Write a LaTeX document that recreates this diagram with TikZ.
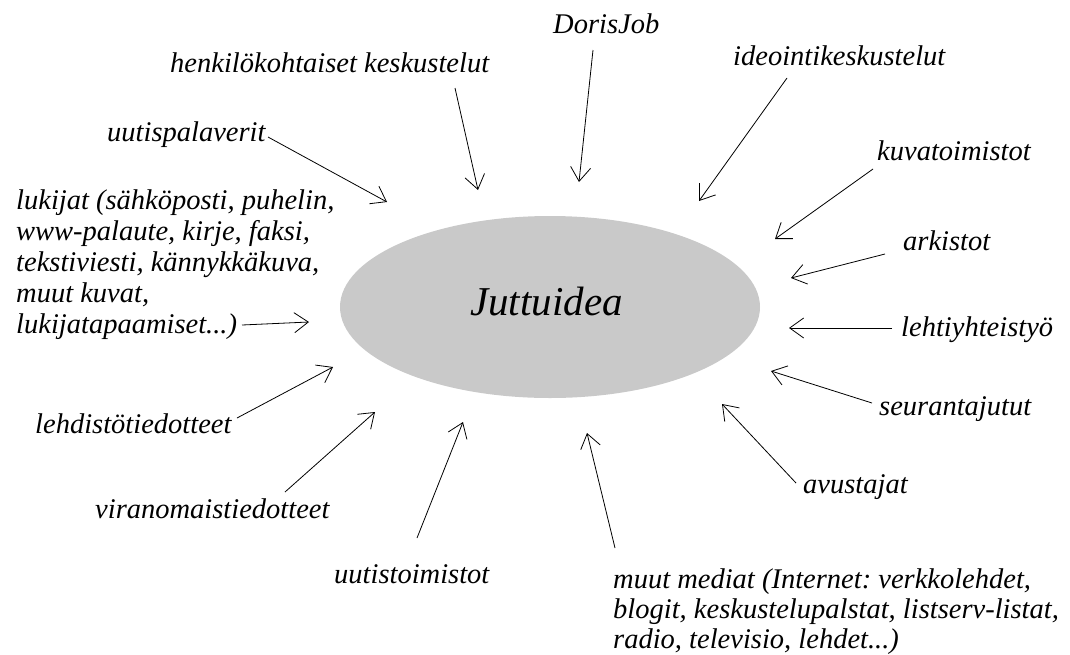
\documentclass[tikz,border=0pt]{standalone}
\usepackage{fontspec}
\setmainfont{Liberation Serif}
\frenchspacing
\usetikzlibrary{arrows.meta,shapes.geometric}
\begin{document}
\begin{tikzpicture}[x=1pt,y=-1pt,
  lbl/.style={inner sep=0pt,anchor=base west,font=\fontsize{28.5}{31}\selectfont\itshape},
  blk/.style={lbl,align=left},
  feed/.style={draw=black,line width=0.8pt,-{Straight Barb[length=14pt,width=20pt,line width=0.8pt]}},
  hub/.style={ellipse,fill=black!21,draw=none,minimum width=420pt,minimum height=182pt,inner sep=0pt}]
\useasboundingbox (0,0) rectangle (1070,654);
\node[hub] (hub) at (550,307) {};
\node[lbl,font=\fontsize{41}{44}\selectfont\itshape] (jt) at (470,315) {Juttuidea};
% labels
\node[lbl] (doris) at (553,33) {DorisJob};
\node[lbl] (henk) at (170,72) {henkilökohtaiset keskustelut};
\node[lbl] (uutisp) at (107,141) {uutispalaverit};
\node[lbl] (ideo) at (733,65) {ideointikeskustelut};
\node[lbl] (kuva) at (877,160) {kuvatoimistot};
\node[lbl] (ark) at (903,250) {arkistot};
\node[lbl] (leht) at (901,336) {lehtiyhteistyö};
\node[lbl] (seur) at (879,415) {seurantajutut};
\node[lbl] (avus) at (803,493) {avustajat};
\node[blk,font=\fontsize{28.5}{30}\selectfont\itshape] (muut) at (613,648) {muut mediat (Internet: verkkolehdet,\\blogit, keskustelupalstat, listserv-listat,\\radio, televisio, lehdet...)};
\node[lbl] (uutist) at (334,583) {uutistoimistot};
\node[lbl] (viran) at (95,518) {viranomaistiedotteet};
\node[lbl] (lehd) at (35,433) {lehdistötiedotteet};
\node[blk] (luk) at (16,333) {lukijat (sähköposti, puhelin,\\www-palaute, kirje, faksi,\\tekstiviesti, kännykkäkuva,\\muut kuvat,\\lukijatapaamiset...)};
% arrow ends
\coordinate (s1) at (593,50);   \coordinate (t1) at (579,182);
\coordinate (s2) at (455,88);   \coordinate (t2) at (478,190);
\coordinate (s3) at (268,137);  \coordinate (t3) at (387,202);
\coordinate (s4) at (787,78);   \coordinate (t4) at (699,201);
\coordinate (s5) at (873,169);  \coordinate (t5) at (775,239);
\coordinate (s6) at (885,254);  \coordinate (t6) at (791,278);
\coordinate (s7) at (892,328);  \coordinate (t7) at (789,328);
\coordinate (s8) at (872,403);  \coordinate (t8) at (771,371);
\coordinate (s9) at (796,483);  \coordinate (t9) at (722,404);
\coordinate (s10) at (615,548); \coordinate (t10) at (587,433);
\coordinate (s11) at (417,538); \coordinate (t11) at (463,422);
\coordinate (s12) at (285,492); \coordinate (t12) at (375,412);
\coordinate (s13) at (237,418); \coordinate (t13) at (333,367);
\coordinate (s14) at (242,325); \coordinate (t14) at (309,322);
\foreach \i in {1,...,14} {\draw[feed] (s\i) -- (t\i);}
\end{tikzpicture}
\end{document}
